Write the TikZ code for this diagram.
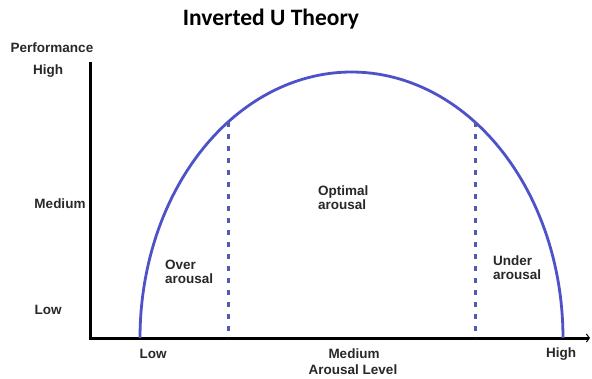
\documentclass[tikz,border=0pt]{standalone}
\usepackage{fontspec}
\setmainfont{Liberation Sans}
\newfontfamily\titlefont{Carlito}
\usetikzlibrary{arrows.meta}
\definecolor{curveblue}{RGB}{78,82,200}
\definecolor{dashblue}{RGB}{82,90,175}
\definecolor{labelgray}{RGB}{40,40,40}
\tikzset{
  lbl/.style={font=\fontsize{13.5}{14.5}\selectfont\bfseries, text=labelgray, inner sep=0pt},
  blocklbl/.style={lbl, align=left, anchor=north west},
  axisline/.style={line width=3pt, black},
  curveline/.style={line width=2.8pt, curveblue},
  dashline/.style={line width=3pt, dashblue, dash pattern=on 5pt off 7pt}
}
\begin{document}
\begin{tikzpicture}[x=1pt,y=-1pt]
\useasboundingbox (0,0) rectangle (592,378);
\fill[white] (0,0) rectangle (592,378);
% title
\node[inner sep=0pt, font=\titlefont\fontsize{23.5}{25}\selectfont\bfseries] (title) at (271,19) {Inverted U Theory};
% axes
\coordinate (origin) at (90,338);
\coordinate (ytop) at (90,62);
\coordinate (xend) at (590,338);
\draw[axisline] (ytop) -- (90,339.5);
\draw[axisline, -{Straight Barb[length=3pt,width=8pt,line width=1pt]}] (88.5,338) -- (xend);
% curve
\draw[curveline] plot[domain=180:0, samples=120, smooth] ({351.5+211.5*cos(\x)}, {338-266*sin(\x)});
% dashed
\coordinate (dlt) at (228,122);
\coordinate (dlb) at (228,338);
\coordinate (drt) at (475,122);
\coordinate (drb) at (475,338);
\draw[dashline] (dlt) -- (dlb);
\draw[dashline] (drt) -- (drb);
% y labels
\node[lbl] (perf) at (52,48) {Performance};
\node[lbl] (yhigh) at (48,71) {High};
\node[lbl] (ymed) at (60,204) {Medium};
\node[lbl] (ylow) at (48,310) {Low};
% x labels
\node[lbl] (xlow) at (153,354) {Low};
\node[lbl] (xmed) at (354,354) {Medium};
\node[lbl] (xlevel) at (353,370) {Arousal Level};
\node[lbl] (xhigh) at (561,354) {High};
% region labels
\node[blocklbl] (over) at (165,260) {Over\\[-1pt]arousal};
\node[blocklbl] (optimal) at (318,186) {Optimal\\[-1pt]arousal};
\node[blocklbl] (under) at (493,256) {Under\\[-1pt]arousal};
\end{tikzpicture}
\end{document}
